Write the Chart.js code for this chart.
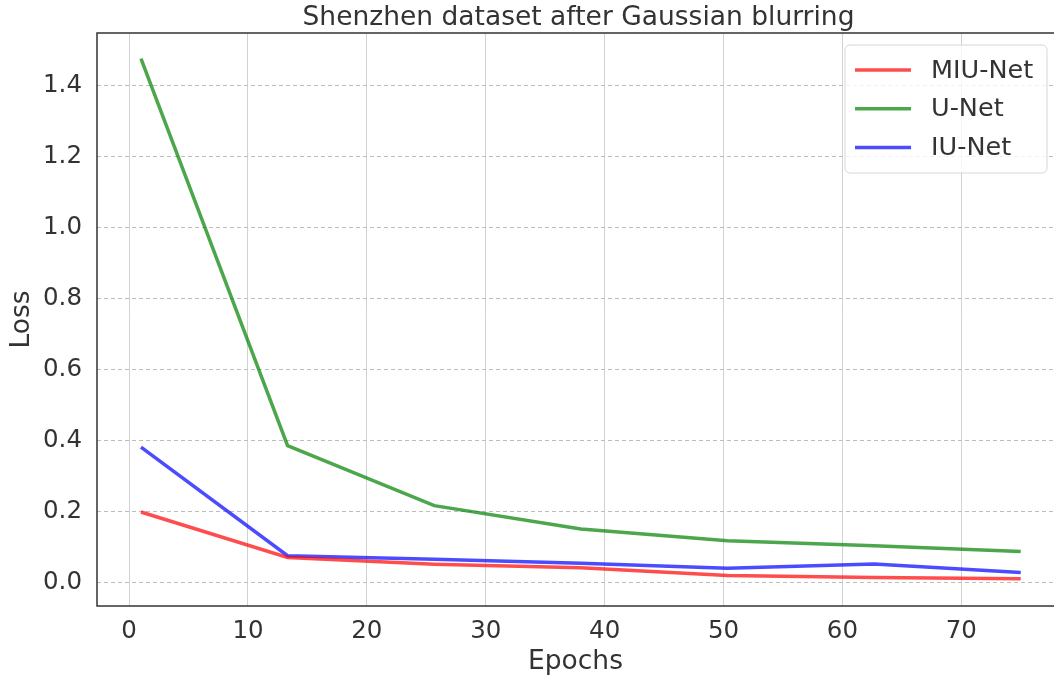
<!DOCTYPE html>
<html>
<head>
<meta charset="utf-8">
<script src="https://cdn.jsdelivr.net/npm/chart.js@4/dist/chart.umd.min.js"></script>
<style>
  html, body { margin: 0; padding: 0; background: #ffffff; }
  #wrap { width: 1054px; height: 679px; position: relative; }
</style>
</head>
<body>
<div id="wrap"><canvas id="c" width="1054" height="679"></canvas></div>
<script>
const chartTitle = "Shenzhen dataset after Gaussian blurring";
const xTitle = "Epochs";
const yTitle = "Loss";
const epochs = [1, 13.33, 25.67, 38, 50.33, 62.67, 75];
const seriesNames = ["MIU-Net", "U-Net", "IU-Net"];
const miuNet = [0.199, 0.071, 0.052, 0.042, 0.020, 0.015, 0.011];
const uNet   = [1.476, 0.386, 0.217, 0.151, 0.118, 0.104, 0.088];
const iuNet  = [0.382, 0.076, 0.066, 0.055, 0.041, 0.053, 0.029];
const seriesColors = ["rgba(255,0,0,0.7)", "rgba(0,128,0,0.7)", "rgba(0,0,255,0.7)"];
const xTicks = [0, 10, 20, 30, 40, 50, 60, 70];
const yTicks = [0.0, 0.2, 0.4, 0.6, 0.8, 1.0, 1.2, 1.4];

const FONT = "'DejaVu Sans', sans-serif";
const TEXT = "#333333";

const seriesValues = [miuNet, uNet, iuNet];
const datasets = seriesNames.map((name, i) => ({
  label: name,
  data: epochs.map((x, j) => ({ x: x, y: seriesValues[i][j] })),
  borderColor: seriesColors[i],
  backgroundColor: seriesColors[i],
  borderWidth: 3.5,
  pointRadius: 0,
  tension: 0,
  fill: false,
  clip: false
}));

const framePlugin = {
  id: 'frameAndExtras',
  afterDraw(chart) {
    const ctx = chart.ctx;
    const a = chart.chartArea;
    ctx.save();
    ctx.strokeStyle = "#333333";
    ctx.lineWidth = 1.5;
    ctx.strokeRect(a.left, a.top, a.right - a.left + 2, a.bottom - a.top);
    ctx.fillStyle = TEXT;
    ctx.font = "26.5px " + FONT;
    ctx.textAlign = "center";
    ctx.textBaseline = "middle";
    ctx.fillText(chartTitle, (a.left + a.right) / 2 + 3, 18);
    const bw = 202, bh = 128;
    const bx = a.right - 7 - bw, by = a.top + 12;
    ctx.beginPath();
    if (ctx.roundRect) ctx.roundRect(bx, by, bw, bh, 5); else ctx.rect(bx, by, bw, bh);
    ctx.fillStyle = "rgba(255,255,255,0.8)";
    ctx.fill();
    ctx.strokeStyle = "#d6d6d6";
    ctx.lineWidth = 1;
    ctx.stroke();
    ctx.font = "25.5px " + FONT;
    ctx.textAlign = "left";
    chart.data.datasets.forEach((ds, i) => {
      const y = by + 25 + i * 38.7;
      ctx.beginPath();
      ctx.strokeStyle = ds.borderColor;
      ctx.lineWidth = 3.5;
      ctx.moveTo(bx + 10, y);
      ctx.lineTo(bx + 66, y);
      ctx.stroke();
      ctx.fillStyle = TEXT;
      ctx.fillText(ds.label, bx + 86, y + 1);
    });
    ctx.restore();
  }
};

new Chart(document.getElementById('c'), {
  type: 'line',
  data: { datasets: datasets },
  options: {
    responsive: false,
    animation: false,
    layout: { padding: { top: 33, right: 0, left: 0, bottom: 0 } },
    plugins: { legend: { display: false }, title: { display: false }, tooltip: { enabled: false } },
    scales: {
      x: {
        type: 'linear',
        min: -2.7,
        max: 77.8,
        afterBuildTicks: (s) => { s.ticks = xTicks.map(v => ({ value: v })); },
        afterFit: (s) => { s.height = 73; },
        grid: { color: "#d2d2d2", lineWidth: 1, drawTicks: false },
        border: { display: false },
        ticks: { color: TEXT, font: { family: FONT, size: 24.5 }, padding: 11, maxRotation: 0 },
        title: { display: true, text: xTitle, color: TEXT, font: { family: FONT, size: 26.5 }, padding: { top: 0, bottom: 1 } }
      },
      y: {
        type: 'linear',
        min: -0.0656,
        max: 1.548,
        afterBuildTicks: (s) => { s.ticks = yTicks.map(v => ({ value: v })); },
        afterFit: (s) => { s.width = 97; },
        grid: { color: "#bdbdbd", lineWidth: 1, drawTicks: false },
        border: { display: false, dash: [4, 3] },
        ticks: { color: TEXT, font: { family: FONT, size: 24.5 }, padding: 15, callback: (v) => Number(v).toFixed(1) },
        title: { display: true, text: yTitle, color: TEXT, font: { family: FONT, size: 26.5 }, padding: { top: 6, bottom: 0 } }
      }
    }
  },
  plugins: [framePlugin]
});
</script>
</body>
</html>
